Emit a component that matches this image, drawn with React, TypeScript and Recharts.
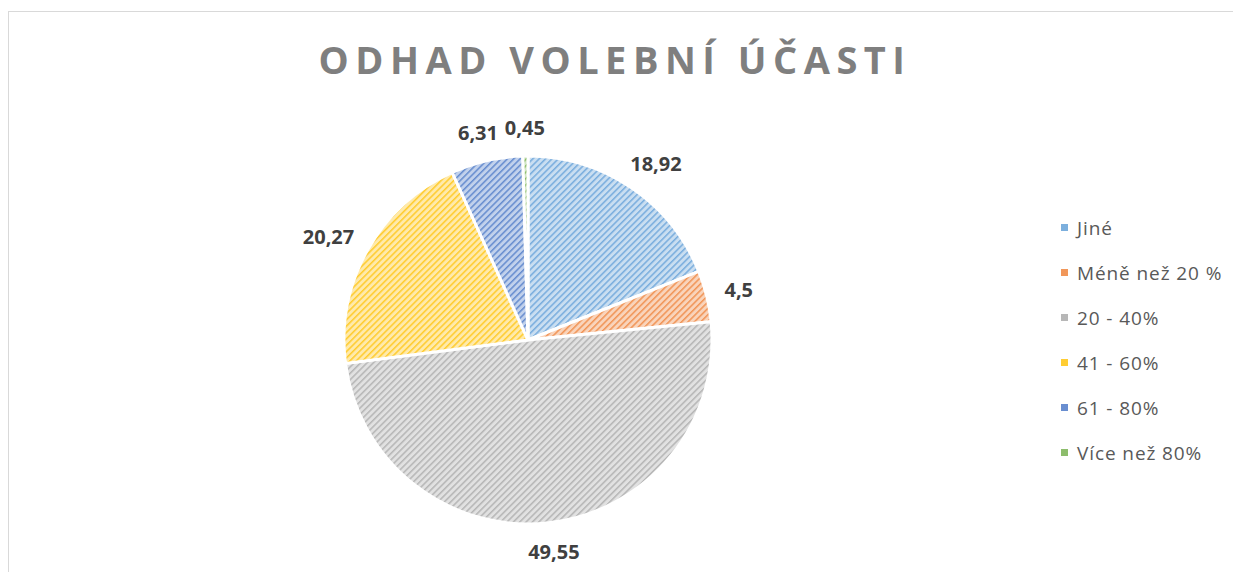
import React from 'react';
import { PieChart, Pie, Cell, Legend } from 'recharts';

const categories = ['Jiné', 'Méně než 20 %', '20 - 40%', '41 - 60%', '61 - 80%', 'Více než 80%'];
const values = [18.92, 4.5, 49.55, 20.27, 6.31, 0.45];
const labels = ['18,92', '4,5', '49,55', '20,27', '6,31', '0,45'];
const colors = ['#5B9BD5', '#ED7D31', '#A5A5A5', '#FFC000', '#4472C4', '#70AD47'];

const data = categories.map((name, i) => ({ name, value: values[i], label: labels[i] }));

const RADIAN = Math.PI / 180;

const renderLabel = (props: any) => {
  const { cx, cy, midAngle, outerRadius, index } = props;
  const text = labels[index];
  const w = text.replace(',', '').length * 11.5 + 5;
  const hw = w / 2;
  const hh = 10;
  const r = outerRadius + 19;
  const c = Math.cos(-midAngle * RADIAN);
  const s = Math.sin(-midAngle * RADIAN);
  const x = cx + r * c + hw * c;
  const y = cy + r * s + hh * s;
  return (
    <text
      x={x}
      y={y}
      textAnchor="middle"
      dominantBaseline="central"
      fill="#404040"
      fontSize={20}
      fontWeight={700}
      fontFamily="'Open Sans', sans-serif"
    >
      {text}
    </text>
  );
};

const renderLegend = () => (
  <ul style={{ listStyle: 'none', margin: 0, padding: 0 }}>
    {categories.map((name, i) => (
      <li key={name} style={{ display: 'flex', alignItems: 'center', height: 45 }}>
        <span
          style={{
            display: 'inline-block',
            width: 7,
            height: 7,
            background: colors[i],
            opacity: 0.8,
            marginRight: 9,
          }}
        />
        <span
          style={{
            color: '#595959',
            fontSize: 19,
            letterSpacing: 0.9,
            fontFamily: "'Open Sans', sans-serif",
          }}
        >
          {name}
        </span>
      </li>
    ))}
  </ul>
);

export default function App() {
  return (
    <div style={{ width: 1233, height: 564, overflow: 'hidden', position: 'relative' }}>
      <style>{'body{overflow:hidden}'}</style>
      <div
        style={{
          position: 'absolute',
          left: 0,
          top: 3,
          width: 1260,
          height: 600,
          border: '1px solid #d9d9d9',
          boxSizing: 'border-box',
          background: '#fff',
        }}
      />
      <div
        style={{
          position: 'absolute',
          left: 0,
          top: 25,
          width: 1214,
          textAlign: 'center',
          color: '#7F7F7F',
          fontSize: 38,
          fontWeight: 700,
          letterSpacing: 6.5,
          fontFamily: "'Open Sans', sans-serif",
        }}
      >
        ODHAD VOLEBNÍ ÚČASTI
      </div>
      <div style={{ position: 'absolute', left: 0, top: 0 }}>
        <PieChart width={1233} height={564}>
          <defs>
            {colors.map((col, i) => (
              <pattern
                key={i}
                id={`hatch${i}`}
                width={4.5}
                height={4.5}
                patternUnits="userSpaceOnUse"
                patternTransform="rotate(45)"
              >
                <rect width={4.5} height={4.5} fill={col} fillOpacity={0.33} />
                <rect x={0} y={0} width={1.5} height={4.5} fill={col} fillOpacity={0.75} />
              </pattern>
            ))}
          </defs>
          <Pie
            data={data}
            dataKey="value"
            nameKey="name"
            cx={515}
            cy={327}
            outerRadius={184}
            startAngle={90}
            endAngle={-270}
            stroke="#ffffff"
            strokeWidth={3}
            label={renderLabel}
            labelLine={false}
            isAnimationActive={false}
          >
            {data.map((d, i) => (
              <Cell key={d.name} fill={`url(#hatch${i})`} />
            ))}
          </Pie>
          <Legend
            layout="vertical"
            align="right"
            verticalAlign="top"
            content={renderLegend}
            wrapperStyle={{ left: 1053, top: 197, width: 180 }}
          />
        </PieChart>
      </div>
    </div>
  );
}
